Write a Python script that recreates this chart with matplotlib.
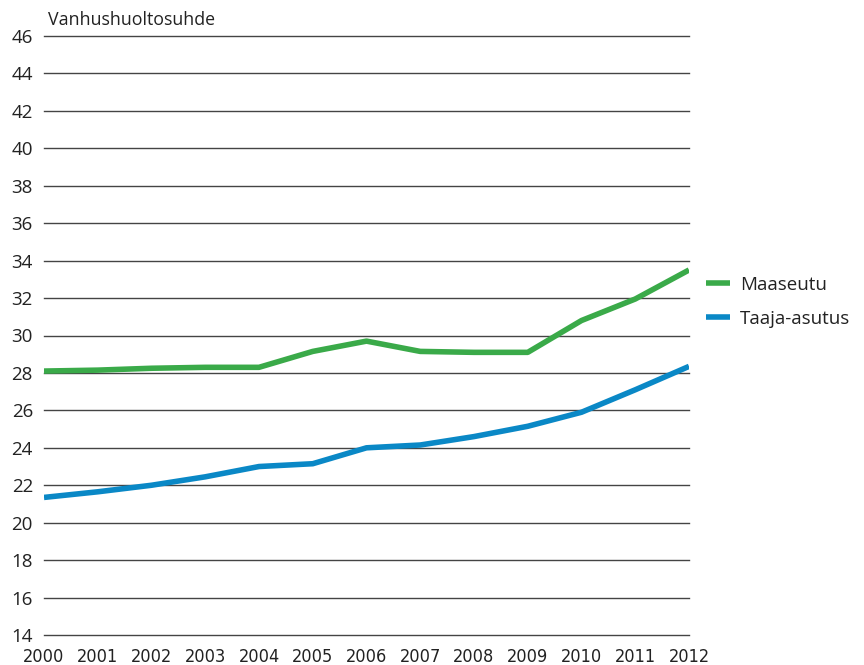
import matplotlib
matplotlib.use("Agg")
import matplotlib.pyplot as plt

years = [2000, 2001, 2002, 2003, 2004, 2005, 2006, 2007, 2008, 2009, 2010, 2011, 2012]
maaseutu = [28.1, 28.15, 28.25, 28.3, 28.3, 29.15, 29.7, 29.15, 29.1, 29.1, 30.8, 31.95, 33.5]
taaja = [21.35, 21.65, 22.0, 22.45, 23.0, 23.15, 24.0, 24.15, 24.6, 25.15, 25.9, 27.1, 28.35]
yticks = list(range(14, 47, 2))

plt.rcParams['font.family'] = ['Open Sans', 'DejaVu Sans']

fig = plt.figure(figsize=(8.64, 6.65), dpi=100)
ax = fig.add_axes([44/864, 1-635/665, (689-44)/864, (635-36)/665])

for y in yticks:
    ax.axhline(y, color="#444444", lw=1.0, zorder=1, clip_on=False)

ax.plot(years, maaseutu, color="#3aaa49", lw=4.0, label="Maaseutu", zorder=3, solid_capstyle="butt")
ax.plot(years, taaja, color="#0a88c6", lw=4.0, label="Taaja-asutus", zorder=3, solid_capstyle="butt")

ax.set_xlim(2000, 2012)
ax.set_ylim(14, 46)
ax.set_yticks(yticks)
ax.set_xticks(years)
ax.set_xticklabels([str(y) for y in years], fontsize=13, fontstretch="condensed",
                   family="DejaVu Sans", color="#222222")
ax.tick_params(axis="y", length=0, pad=8, labelsize=13.5, labelcolor="#222222")
ax.tick_params(axis="x", length=0, pad=9)
for s in ax.spines.values():
    s.set_visible(False)

ax.text(0.006, 1.012, "Vanhushuoltosuhde", transform=ax.transAxes, fontsize=12.8,
        color="#222222", ha="left", va="bottom")

ax.legend(loc="center left", bbox_to_anchor=(1.0, 0.556), frameon=False, fontsize=13.5,
          handlelength=1.3, handletextpad=0.5, labelspacing=0.85, labelcolor="#222222")

fig.savefig("out.png", dpi=100)
